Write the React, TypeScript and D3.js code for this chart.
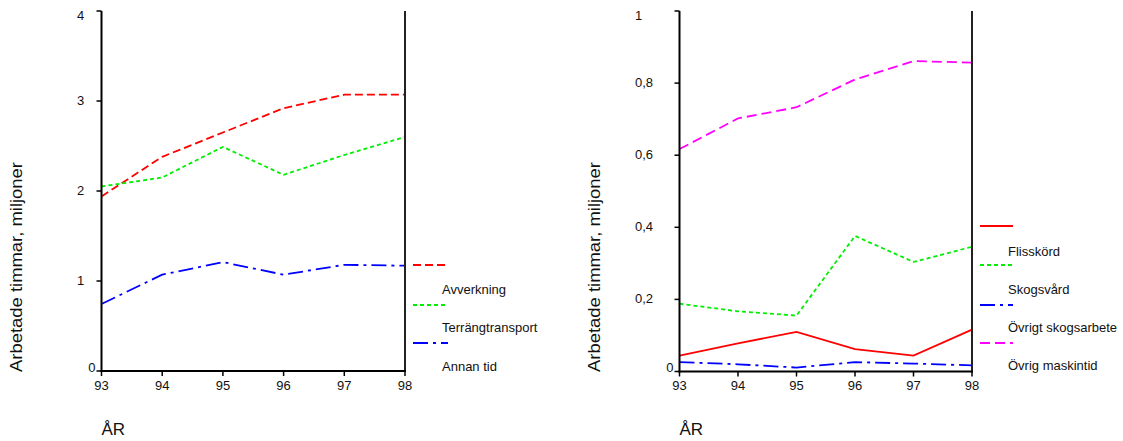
import React from "react";
import * as d3 from "d3";

const years = [93, 94, 95, 96, 97, 98];

// Left chart
const leftTicks = [0, 1, 2, 3, 4];
const avverkning = [1.94, 2.38, 2.65, 2.92, 3.07, 3.07];
const terrangtransport = [2.05, 2.15, 2.49, 2.18, 2.4, 2.6];
const annanTid = [0.745, 1.07, 1.21, 1.07, 1.18, 1.17];
const leftLabels = ["Avverkning", "Terrängtransport", "Annan tid"];

// Right chart
const rightTicks = [0, 0.2, 0.4, 0.6, 0.8, 1];
const rightTickLabels = ["0", "0,2", "0,4", "0,6", "0,8", "1"];
const flisskord = [0.044, 0.078, 0.11, 0.062, 0.044, 0.116];
const skogsvard = [0.188, 0.167, 0.155, 0.376, 0.304, 0.346];
const ovrigtSkogsarbete = [0.026, 0.02, 0.011, 0.026, 0.022, 0.017];
const ovrigMaskintid = [0.617, 0.702, 0.733, 0.81, 0.861, 0.857];
const rightLabels = ["Flisskörd", "Skogsvård", "Övrigt skogsarbete", "Övrig maskintid"];

const yTitle = "Arbetade timmar, miljoner";
const xTitle = "ÅR";

const FONT = "'Liberation Sans', Arial, sans-serif";

type Series = { values: number[]; color: string; dash: string | null };

const DASH_LONG = "8,4";
const DASH_DOT = "4,3";
const DASH_DASHDOT = "15,5,3,5";
const DASH_MAG = "10,5";

function Panel(props: {
  x0: number;
  x1: number;
  yTop: number;
  yBot: number;
  domainMax: number;
  ticks: number[];
  tickLabels: string[];
  series: Series[];
  labelLeft: number;
  titleX: number;
}) {
  const { x0, x1, yTop, yBot, domainMax, ticks, tickLabels, series, labelLeft, titleX } = props;
  const x = d3.scaleLinear().domain([93, 98]).range([x0, x1]);
  const y = d3.scaleLinear().domain([0, domainMax]).range([yBot, yTop]);
  const line = d3
    .line<number>()
    .x((_, i) => x(years[i]))
    .y((d) => y(d));
  return (
    <g>
      {series.map((s, i) => (
        <path
          key={i}
          d={line(s.values) || ""}
          fill="none"
          stroke={s.color}
          strokeWidth={1.8}
          strokeDasharray={s.dash || undefined}
        />
      ))}
      {/* axes */}
      <line x1={x0} x2={x0} y1={yTop} y2={yBot + 1} stroke="#000" strokeWidth={2} />
      <line x1={x1} x2={x1} y1={yTop} y2={yBot + 1} stroke="#222" strokeWidth={2} />
      <line x1={x0 - 1} x2={x1 + 1} y1={yBot} y2={yBot} stroke="#000" strokeWidth={2} />
      {ticks.map((t, i) => (
        <g key={"yt" + i}>
          <line x1={x0 - 5} x2={x0} y1={y(t)} y2={y(t)} stroke="#000" strokeWidth={1.5} />
          <text
            x={t === 0 ? x0 - 6 : labelLeft}
            y={y(t) + (i === ticks.length - 1 ? 4 : t === 0 ? -4 : -1)}
            dy="0.35em"
            textAnchor={t === 0 ? "end" : "start"}
            fontFamily={FONT}
            fontSize={13}
            fill="#111"
          >
            {tickLabels[i]}
          </text>
        </g>
      ))}
      {years.map((yr) => (
        <g key={"xt" + yr}>
          <line x1={x(yr)} x2={x(yr)} y1={yBot} y2={yBot + 5} stroke="#000" strokeWidth={1.5} />
          <text x={x(yr)} y={390} textAnchor="middle" fontFamily={FONT} fontSize={13} fill="#111">
            {yr}
          </text>
        </g>
      ))}
      <text
        transform={`translate(${titleX},267) rotate(-90)`}
        textAnchor="middle"
        fontFamily={FONT}
        fontSize={17}
        textLength={210}
        lengthAdjust="spacingAndGlyphs"
        fill="#111"
      >
        {yTitle}
      </text>
      <text x={x0} y={435} fontFamily={FONT} fontSize={17} fill="#111">
        {xTitle}
      </text>
    </g>
  );
}

function Legend(props: {
  lx0: number;
  lx1: number;
  lineYs: number[];
  textX: number;
  textYs: number[];
  series: Series[];
  labels: string[];
}) {
  const { lx0, lx1, lineYs, textX, textYs, series, labels } = props;
  return (
    <g>
      {series.map((s, i) => (
        <line
          key={"l" + i}
          x1={lx0}
          x2={lx1}
          y1={lineYs[i]}
          y2={lineYs[i]}
          stroke={s.color}
          strokeWidth={1.8}
          strokeDasharray={s.dash || undefined}
        />
      ))}
      {labels.map((lab, i) => (
        <text key={"t" + i} x={textX} y={textYs[i]} fontFamily={FONT} fontSize={13} fill="#111">
          {lab}
        </text>
      ))}
    </g>
  );
}

export default function App() {
  const leftSeries: Series[] = [
    { values: avverkning, color: "#ff0000", dash: DASH_LONG },
    { values: terrangtransport, color: "#00ee00", dash: DASH_DOT },
    { values: annanTid, color: "#0000ff", dash: DASH_DASHDOT },
  ];
  const rightSeries: Series[] = [
    { values: flisskord, color: "#ff0000", dash: null },
    { values: skogsvard, color: "#00ee00", dash: DASH_DOT },
    { values: ovrigtSkogsarbete, color: "#0000ff", dash: DASH_DASHDOT },
    { values: ovrigMaskintid, color: "#ff00ff", dash: DASH_MAG },
  ];
  return (
    <svg
      width={1123}
      height={441}
      style={{ position: "absolute", left: 0, top: 0, background: "#fff" }}
    >
      <rect width={1123} height={441} fill="#fff" />
      <Panel
        x0={101.5}
        x1={405}
        yTop={11}
        yBot={371}
        domainMax={4}
        ticks={leftTicks}
        tickLabels={leftTicks.map(String)}
        series={leftSeries}
        labelLeft={77}
        titleX={22}
      />
      <Panel
        x0={679.5}
        x1={972}
        yTop={11}
        yBot={371.5}
        domainMax={1}
        ticks={rightTicks}
        tickLabels={rightTickLabels}
        series={rightSeries}
        labelLeft={635}
        titleX={600}
      />
      <Legend
        lx0={413}
        lx1={448}
        lineYs={[265, 305, 343]}
        textX={442}
        textYs={[294, 332, 371]}
        series={leftSeries}
        labels={leftLabels}
      />
      <Legend
        lx0={980}
        lx1={1013}
        lineYs={[226, 265, 305, 343]}
        textX={1008}
        textYs={[256, 294, 332, 370]}
        series={rightSeries}
        labels={rightLabels}
      />
    </svg>
  );
}
